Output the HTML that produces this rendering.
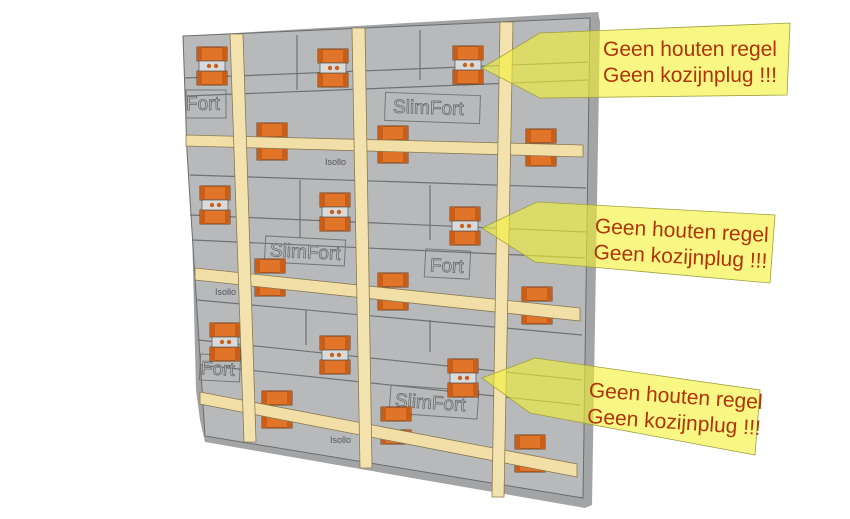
<!DOCTYPE html>
<html><head><meta charset="utf-8"><style>
html,body{margin:0;padding:0;background:#fff;}
svg{display:block;}
</style></head><body>
<svg width="850" height="519" viewBox="0 0 850 519" xmlns="http://www.w3.org/2000/svg" font-family="Liberation Sans, sans-serif">
<defs>
<g id="blk"><rect x="-15" y="-7" width="30" height="14" fill="#e0752a" stroke="#5a2a08" stroke-width="0.8"/><rect x="-15" y="-7" width="5" height="14" fill="#c85e18"/><rect x="10" y="-7" width="5" height="14" fill="#c85e18"/></g>
<g id="clip"><use href="#blk" y="-12"/><use href="#blk" y="12"/><rect x="-13" y="-5" width="26" height="10" fill="#d8dadc" stroke="#555" stroke-width="0.7"/><circle cx="-3" cy="0" r="2.2" fill="#c86020"/><circle cx="4" cy="0" r="2.2" fill="#c86020"/></g>
<g id="bclip"><use href="#blk" y="-10"/><use href="#blk" y="13"/></g>
</defs>
<!-- wall -->
<polygon points="183,36 598,12 600,22 592,505 585,508 205,442 200,420 196,390 190,150" fill="#a2a4a6"/>
<polygon points="183,36 590,18 583,498 205,436 187,152" fill="#b7b9bb" stroke="#6a6c6e" stroke-width="1"/>
<g stroke="#6f7173" stroke-width="1.2" fill="none">
<line x1="185" y1="78" x2="588" y2="62"/>
<line x1="187" y1="96" x2="588" y2="80"/>
<line x1="190" y1="175" x2="586" y2="188"/>
<line x1="190" y1="215" x2="586" y2="232"/>
<line x1="193" y1="240" x2="585" y2="258"/>
<line x1="197" y1="300" x2="582" y2="335"/>
<line x1="198" y1="340" x2="582" y2="380"/>
<line x1="200" y1="365" x2="580" y2="405"/>
<line x1="297" y1="35" x2="297" y2="90"/><line x1="420" y1="30" x2="420" y2="80"/>
<line x1="300" y1="180" x2="300" y2="238"/><line x1="430" y1="185" x2="430" y2="240"/>
<line x1="306" y1="310" x2="306" y2="345"/><line x1="430" y1="320" x2="430" y2="352"/>
</g>
<g fill="none" stroke="#777" stroke-width="1">
<rect x="385" y="94" width="95" height="28" transform="rotate(2 432 108)"/>
<rect x="186" y="90" width="40" height="28"/>
<rect x="265" y="238" width="80" height="26" transform="rotate(3 305 251)"/>
<rect x="425" y="250" width="45" height="28" transform="rotate(3 447 264)"/>
<rect x="200" y="355" width="40" height="26" transform="rotate(3 220 368)"/>
<rect x="390" y="388" width="88" height="28" transform="rotate(4 434 402)"/>
</g>
<g fill="#bfc1c3" stroke="#6a6c6e" stroke-width="0.8" font-size="19">
<text x="393" y="114" transform="rotate(2 432 108)">SlimFort</text>
<text x="186" y="110">Fort</text>
<text x="270" y="258" transform="rotate(3 305 251)">SlimFort</text>
<text x="430" y="272" transform="rotate(3 447 264)">Fort</text>
<text x="201" y="375" transform="rotate(3 220 368)">Fort</text>
<text x="395" y="409" transform="rotate(4 434 402)">SlimFort</text>
</g>
<g fill="#555" font-size="9"><text x="325" y="165">Isollo</text><text x="215" y="295">Isollo</text><text x="330" y="443">Isollo</text></g>
<!-- clips -->
<use href="#clip" x="212" y="66"/><use href="#clip" x="333" y="68"/><use href="#clip" x="468" y="65"/>
<use href="#clip" x="215" y="205"/><use href="#clip" x="335" y="212"/><use href="#clip" x="465" y="226"/>
<use href="#clip" x="225" y="342"/><use href="#clip" x="335" y="355"/><use href="#clip" x="463" y="378"/>
<use href="#bclip" x="272" y="140"/><use href="#bclip" x="393" y="143"/><use href="#bclip" x="541" y="146"/>
<use href="#bclip" x="270" y="276"/><use href="#bclip" x="393" y="290"/><use href="#bclip" x="537" y="304"/>
<use href="#bclip" x="277" y="408"/><use href="#bclip" x="396" y="424"/><use href="#bclip" x="530" y="452"/>
<!-- horizontal battens -->
<g fill="#f2dfa8" stroke="#8a7a50" stroke-width="0.8">
<polygon points="186,135 583,145 583,157 186,146"/>
<polygon points="195,268 580,308 580,321 195,280"/>
<polygon points="200,392 577,464 577,477 200,404"/>
</g>
<!-- vertical battens -->
<g fill="#f3e2ae" stroke="#8a7a50" stroke-width="0.8">
<polygon points="230,34 243,34 256,442 244,442"/>
<polygon points="352,28 365,28 372,468 360,468"/>
<polygon points="500,22 513,22 504,497 492,497"/>
</g>
<!-- callouts -->
<g fill="#f4f232" fill-opacity="0.6" stroke="#a0a040" stroke-width="0.8">
<polygon points="482,68 540,33 790,23 787,95 540,98"/>
<polygon points="482,228 537,202 775,215 770,283 535,262"/>
<polygon points="482,378 535,358 760,390 755,455 530,413"/>
</g>
<g fill="#b0340a" font-size="21">
<text x="603" y="56">Geen houten regel</text>
<text x="603" y="82">Geen kozijnplug !!!</text>
<g transform="rotate(3 596 225)"><text x="595" y="233">Geen houten regel</text><text x="595" y="259">Geen kozijnplug !!!</text></g>
<g transform="rotate(4 590 390)"><text x="589" y="397">Geen houten regel</text><text x="589" y="423">Geen kozijnplug !!!</text></g>
</g>
</svg>
</body></html>
